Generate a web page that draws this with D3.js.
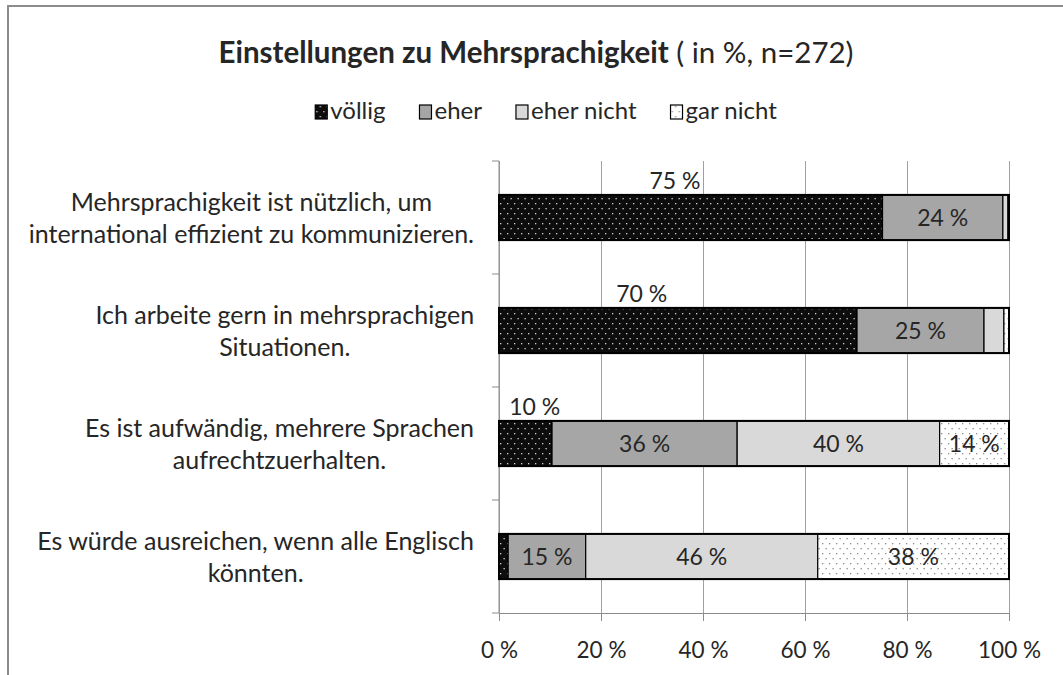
<!DOCTYPE html>
<html>
<head>
<meta charset="utf-8">
<script src="https://cdn.jsdelivr.net/npm/d3@7/dist/d3.min.js"></script>
<style>
  body { margin: 0; background: #fff; }
  text { font-family: Lato, "Open Sans", sans-serif; fill: #262626; }
</style>
</head>
<body>
<svg id="chart" width="1063" height="675"></svg>
<script>

// Data (percent)
var categories = [
  ["Mehrsprachigkeit ist nützlich, um", "international effizient zu kommunizieren."],
  ["Ich arbeite gern in mehrsprachigen", "Situationen."],
  ["Es ist aufwändig, mehrere Sprachen", "aufrechtzuerhalten."],
  ["Es würde ausreichen, wenn alle Englisch", "könnten."]
];
var seriesNames = ["völlig", "eher", "eher nicht", "gar nicht"];
var voellig   = [75.2, 70.2, 10.4, 1.8];
var eher      = [23.6, 24.9, 36.3, 15.2];
var eherNicht = [1.0, 3.9, 39.7, 45.5];
var garNicht  = [0.2, 1.0, 13.6, 37.5];
var xTicks = [0, 20, 40, 60, 80, 100];
// the "völlig" labels were dragged above the bars in the original
var topLabelAt = [34.5, 28, 7, null];

var svg = d3.select("#chart");

var margin = { left: 499, right: 54, top: 161, bottom: 62 },
    W = 1063, H = 675,
    plotW = W - margin.left - margin.right,
    plotH = H - margin.top - margin.bottom;

// Patterns
var defs = svg.append("defs");

function dotPattern(id, bg, dot) {
  var p = defs.append("pattern")
    .attr("id", id)
    .attr("patternUnits", "userSpaceOnUse")
    .attr("width", 7)
    .attr("height", 10);
  p.append("rect").attr("width", 7).attr("height", 10).attr("fill", bg);
  p.append("rect").attr("x", 1).attr("y", 2).attr("width", 1.3).attr("height", 1.3).attr("fill", dot);
  p.append("rect").attr("x", 4.5).attr("y", 7).attr("width", 1.3).attr("height", 1.3).attr("fill", dot);
}
dotPattern("darkDots", "#0d0d0d", "#d0d0d0");
dotPattern("whiteDots", "#ffffff", "#8c8c8c");

var fills = ["url(#darkDots)", "#a6a6a6", "#d9d9d9", "url(#whiteDots)"];

// Frame
svg.append("rect")
  .attr("x", 8)
  .attr("y", 6)
  .attr("width", 1100)
  .attr("height", 720)
  .attr("fill", "none")
  .attr("stroke", "#8c8c8c")
  .attr("stroke-width", 2);

// Title
var title = svg.append("text")
  .attr("x", 536)
  .attr("y", 63)
  .attr("text-anchor", "middle")
  .style("font-size", "29.5px");
title.append("tspan").style("font-weight", "bold").text("Einstellungen zu Mehrsprachigkeit");
title.append("tspan").text(" ( in %, n=272)");

// Scales
var x = d3.scaleLinear()
  .domain([0, 100])
  .range([0, plotW]);

var y = d3.scaleBand()
  .domain(d3.range(categories.length))
  .range([0, plotH])
  .paddingInner(0.6)
  .paddingOuter(0.3);

var g = svg.append("g")
  .attr("transform", "translate(" + margin.left + "," + margin.top + ")");

// Grid + bottom axis
var xAxis = g.append("g")
  .attr("transform", "translate(0," + plotH + ")")
  .call(d3.axisBottom(x)
    .tickValues(xTicks)
    .tickSizeInner(-plotH)
    .tickSizeOuter(0)
    .tickFormat(function(d) { return d + " %"; }));
xAxis.select(".domain").attr("stroke", "#8c8c8c");
xAxis.selectAll(".tick line").attr("stroke", "#a0a0a0");
xAxis.selectAll(".tick text")
  .attr("y", 29)
  .style("font-size", "22.5px")
  .style("font-family", "Lato, 'Open Sans', sans-serif")
  .attr("fill", "#262626");
// little ticks below axis
xAxis.selectAll(".tick").append("line")
  .attr("y1", 0)
  .attr("y2", 8)
  .attr("stroke", "#8c8c8c");

// Left axis with ticks at band boundaries
var bandEdges = d3.range(categories.length + 1).map(function(i) { return i * plotH / categories.length; });
g.append("line")
  .attr("x1", 0).attr("x2", 0)
  .attr("y1", 0).attr("y2", plotH)
  .attr("stroke", "#8c8c8c");
g.selectAll(".ytick")
  .data(bandEdges)
  .enter().append("line")
  .attr("class", "ytick")
  .attr("x1", -7).attr("x2", 0)
  .attr("y1", function(d) { return d; })
  .attr("y2", function(d) { return d; })
  .attr("stroke", "#8c8c8c");

// Stack the series
var rows = categories.map(function(c, i) {
  return { i: i, "völlig": voellig[i], "eher": eher[i], "eher nicht": eherNicht[i], "gar nicht": garNicht[i] };
});
var stacked = d3.stack().keys(seriesNames)(rows);

var layers = g.selectAll(".layer")
  .data(stacked)
  .enter().append("g")
  .attr("class", "layer")
  .attr("fill", function(d, k) { return fills[k]; });

layers.selectAll("rect")
  .data(function(d) { return d; })
  .enter().append("rect")
  .attr("x", function(d) { return x(d[0]); })
  .attr("y", function(d) { return y(d.data.i); })
  .attr("width", function(d) { return x(d[1]) - x(d[0]); })
  .attr("height", y.bandwidth())
  .attr("stroke", "#000")
  .attr("stroke-width", 1.2);

// Outline of each bar
g.selectAll(".outline")
  .data(rows)
  .enter().append("rect")
  .attr("class", "outline")
  .attr("x", x(0))
  .attr("y", function(d) { return y(d.i); })
  .attr("width", x(100))
  .attr("height", y.bandwidth())
  .attr("fill", "none")
  .attr("stroke", "#000")
  .attr("stroke-width", 2);

// Labels inside segments (series after the first)
stacked.slice(1).forEach(function(layer) {
  g.selectAll(null)
    .data(layer.filter(function(d) { return d[1] - d[0] >= 10; }))
    .enter().append("text")
    .attr("x", function(d) { return x((d[0] + d[1]) / 2); })
    .attr("y", function(d) { return y(d.data.i) + y.bandwidth() / 2; })
    .attr("dy", "0.35em")
    .attr("text-anchor", "middle")
    .style("font-size", "23px")
    .text(function(d) { return Math.round(d[1] - d[0]) + " %"; });
});

// "völlig" labels above bars
g.selectAll(".toplabel")
  .data(rows.filter(function(d) { return topLabelAt[d.i] !== null; }))
  .enter().append("text")
  .attr("class", "toplabel")
  .attr("x", function(d) { return x(topLabelAt[d.i]); })
  .attr("y", function(d) { return y(d.i) - 6; })
  .attr("text-anchor", "middle")
  .style("font-size", "23px")
  .text(function(d) { return Math.round(voellig[d.i]) + " %"; });

// Category labels: block right-aligned, lines centred within block
categories.forEach(function(lines, i) {
  var t = svg.append("text")
    .style("font-size", "25px")
    .attr("text-anchor", "middle");
  var spans = t.selectAll("tspan")
    .data(lines)
    .enter().append("tspan")
    .text(function(d) { return d; });
  var maxW = d3.max(spans.nodes(), function(n) { return n.getComputedTextLength(); });
  var cx = margin.left - 25 - maxW / 2,
      cy = margin.top + y(i) + y.bandwidth() / 2;
  spans
    .attr("x", cx)
    .attr("y", function(d, k) { return cy + (k === 0 ? -15 : 17); })
    .attr("dy", "0.35em");
});

// Legend
var legend = svg.append("g");
var lx = 0;
seriesNames.forEach(function(name, k) {
  var item = legend.append("g").attr("transform", "translate(" + lx + ",0)");
  item.append("rect")
    .attr("x", 0).attr("y", -14)
    .attr("width", 12).attr("height", 14)
    .attr("fill", fills[k])
    .attr("stroke", "#000")
    .attr("stroke-width", 1.2);
  var t = item.append("text")
    .attr("x", 15).attr("y", 0)
    .style("font-size", "24px")
    .text(name);
  lx += 15 + t.node().getComputedTextLength() + 34;
});
lx -= 34;
legend.attr("transform", "translate(" + (546 - lx / 2) + ",119)");

</script>
</body>
</html>
